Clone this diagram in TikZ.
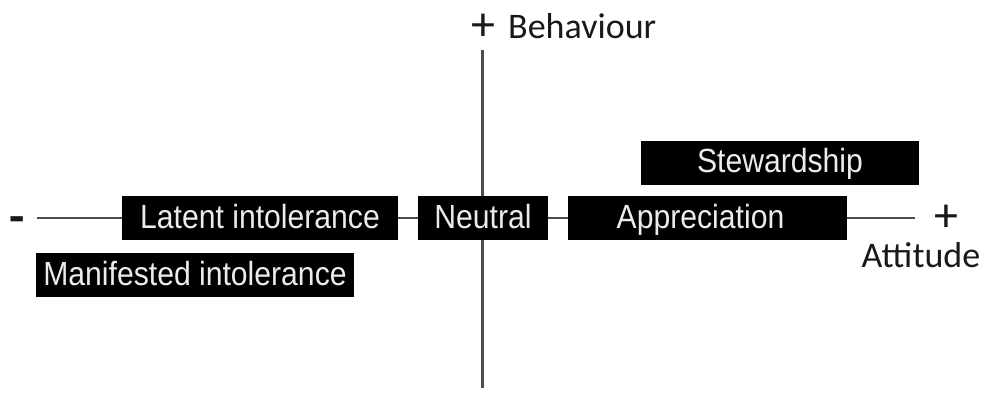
\documentclass[tikz,border=0pt]{standalone}
\usepackage{fontspec}
\setmainfont{Liberation Sans}
\newfontfamily\boxfont[FakeStretch=0.9]{Liberation Sans}
\newfontfamily\calib{Carlito}
\begin{document}
\begin{tikzpicture}[x=1pt,y=-1pt,
  cat/.style={fill=black,text=white!92!black,inner sep=0pt,minimum height=44pt,
    text height=26pt,text depth=6pt,
    font=\boxfont\fontsize{33.5}{36}\selectfont},
  axislbl/.style={inner sep=0pt,text=black!90,font=\calib\fontsize{36}{40}\selectfont},
  sign/.style={inner sep=0pt,text=black!90,font=\calib\fontsize{48}{50}\selectfont},
  axis/.style={draw=black!70,line width=2pt}]
\useasboundingbox (0,0) rectangle (984,402);
\coordinate (T) at (482,50);
\coordinate (B) at (482,388);
\coordinate (L) at (37,218);
\coordinate (R) at (915,218);
\draw[axis,line width=3pt] (T) -- (B);
\node[cat,minimum width=276pt] (lat) at (260,218) {Latent intolerance};
\node[cat,minimum width=130pt] (neu) at (483,218) {Neutral};
\node[cat,minimum width=279pt] (app) at (707.5,218) {Appreciation\hspace*{14pt}};
\node[cat,minimum width=278pt] (stw) at (780,162.5) {Stewardship};
\node[cat,minimum width=318pt] (man) at (195,275) {Manifested intolerance};
\draw[axis] (L) -- (lat.west);
\draw[axis] (lat.east) -- (neu.west);
\draw[axis] (neu.east) -- (app.west);
\draw[axis] (app.east) -- (R);
\node[sign] (bplus) at (483,27.5) {+};
\node[axislbl,anchor=base west] (beh) at (508,38) {Behaviour};
\node[sign,font=\calib\bfseries\fontsize{50}{52}\selectfont] (minus) at (17,225) {-};
\node[sign] (plus) at (946,218) {+};
\node[axislbl,anchor=base] (att) at (921,267) {Attitude};
\end{tikzpicture}
\end{document}
